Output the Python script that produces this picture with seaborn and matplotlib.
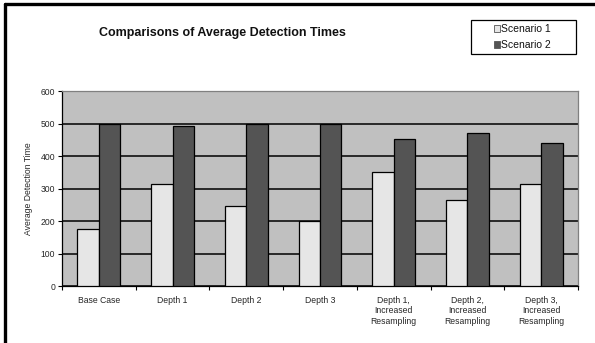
import matplotlib
matplotlib.use("Agg")
import matplotlib.pyplot as plt
import seaborn as sns
import pandas as pd
from matplotlib.lines import Line2D
from matplotlib.patches import Rectangle
from matplotlib.ticker import FixedLocator

categories = ["Base Case", "Depth 1", "Depth 2", "Depth 3",
              "Depth 1,\nIncreased\nResampling",
              "Depth 2,\nIncreased\nResampling",
              "Depth 3,\nIncreased\nResampling"]
scenario_1 = [174, 313, 245, 199, 350, 264, 313]
scenario_2 = [500, 491, 500, 497, 451, 470, 440]
series_names = ["Scenario 1", "Scenario 2"]
y_ticks = [0, 100, 200, 300, 400, 500, 600]

df = pd.DataFrame({
    "category": categories * 2,
    "series": [series_names[0]] * len(categories) + [series_names[1]] * len(categories),
    "value": scenario_1 + scenario_2,
})

sns.set_theme(style="white")
plt.rcParams["font.family"] = ["Liberation Sans", "DejaVu Sans"]

fig = plt.figure(figsize=(5.95, 3.43), dpi=100)
fig.patch.set_facecolor("white")
ax = fig.add_axes([62 / 595, 1 - 286 / 343, (578 - 62) / 595, (286 - 91) / 343])
ax.set_facecolor("#c0c0c0")

palette = {"Scenario 1": "#e6e6e6", "Scenario 2": "#545454"}
sns.barplot(data=df, x="category", y="value", hue="series", order=categories,
            hue_order=series_names, palette=palette, width=0.58, gap=0,
            edgecolor="black", linewidth=0.9, saturation=1, ax=ax,
            legend=False, zorder=3)

ax.set_ylim(0, 600)
ax.set_xlim(-0.5, len(categories) - 0.5)
ax.set_yticks(y_ticks)
ax.set_yticklabels([str(v) for v in y_ticks], fontsize=6.2)
ax.yaxis.grid(True, color="black", linewidth=1.1, zorder=1)
ax.set_axisbelow(True)
ax.tick_params(axis="y", which="major", direction="out", length=3, width=0.8,
               color="black", left=True, pad=2)

ax.set_xticks(range(len(categories)))
ax.set_xticklabels(categories, fontsize=6.2, linespacing=1.25)
ax.tick_params(axis="x", which="major", length=0, pad=7)
ax.xaxis.set_minor_locator(FixedLocator([i - 0.5 for i in range(len(categories) + 1)]))
ax.tick_params(axis="x", which="minor", direction="out", length=3, width=0.8,
               color="black", bottom=True)

ax.set_xlabel("")
ax.set_ylabel("Average Detection Time", fontsize=6.2, labelpad=5)

for side in ["left", "bottom"]:
    ax.spines[side].set_color("black")
    ax.spines[side].set_linewidth(0.9)
for side in ["top", "right"]:
    ax.spines[side].set_color("#808080")
    ax.spines[side].set_linewidth(0.9)

fig.text(222 / 595, 1 - 33 / 343, "Comparisons of Average Detection Times",
         fontsize=9, fontweight="bold", ha="center", va="center", color="#111111")

# legend box with two entries
lx0, lx1, ly0, ly1 = 471 / 595, 576 / 595, 1 - 54 / 343, 1 - 20 / 343
fig.add_artist(Rectangle((lx0, ly0), lx1 - lx0, ly1 - ly0, transform=fig.transFigure,
                         facecolor="white", edgecolor="black", linewidth=0.9))
for i, name in enumerate(series_names):
    yc = 1 - (29 + i * 16) / 343
    fig.add_artist(Rectangle((494 / 595, yc - 2.5 / 343), 6 / 595, 6 / 343,
                             transform=fig.transFigure, facecolor=palette[name],
                             edgecolor="#555555", linewidth=0.6))
    fig.text(501 / 595, yc, name, fontsize=7.5, ha="left", va="center", color="#111111")

# outer frame edges
fig.add_artist(Line2D([5 / 595, 5 / 595], [0, 1 - 4 / 343], transform=fig.transFigure,
                      color="black", linewidth=2.4))
fig.add_artist(Line2D([5 / 595, 1], [1 - 4 / 343, 1 - 4 / 343], transform=fig.transFigure,
                      color="black", linewidth=2.4))

fig.savefig("out.png", dpi=100, facecolor="white")
